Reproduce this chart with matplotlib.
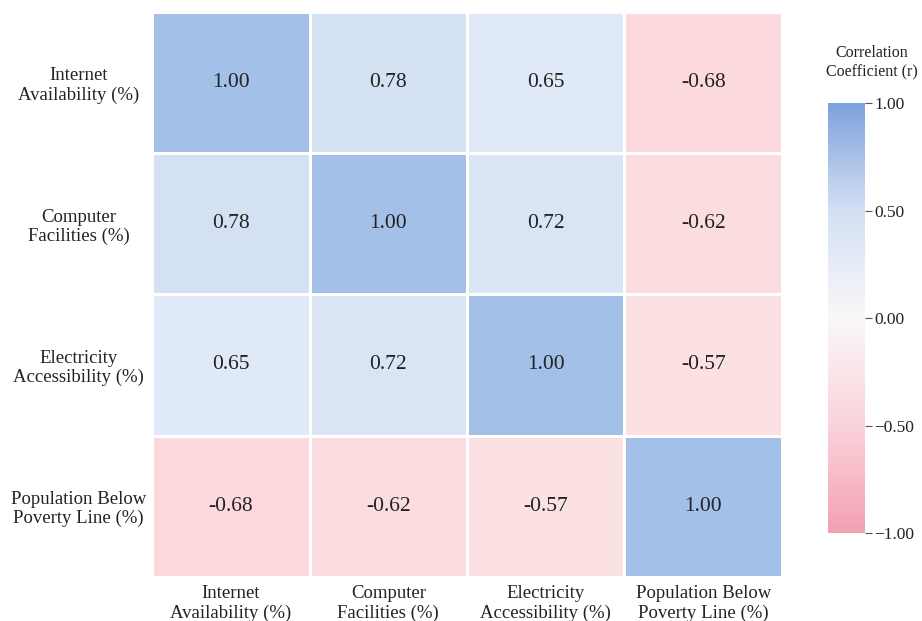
import numpy as np
import matplotlib.pyplot as plt
from matplotlib.colors import LinearSegmentedColormap, Normalize
from matplotlib.cm import ScalarMappable

plt.rcParams['font.family'] = ['Liberation Serif', 'DejaVu Serif']

# Correlation matrix between the four indicators
labels = ['Internet\nAvailability (%)', 'Computer\nFacilities (%)',
          'Electricity\nAccessibility (%)', 'Population Below\nPoverty Line (%)']
corr = np.array([
    [1.00, 0.78, 0.65, -0.68],
    [0.78, 1.00, 0.72, -0.62],
    [0.65, 0.72, 1.00, -0.57],
    [-0.68, -0.62, -0.57, 1.00],
])
cbar_ticks = [-1.0, -0.5, 0.0, 0.5, 1.0]

# soft palette for the cells, stronger one for the scale bar
cell_cmap = LinearSegmentedColormap.from_list('cells', [
    (0.00, '#f8c6cd'), (0.25, '#fce5e5'), (0.50, '#f8f8fa'),
    (0.80, '#e6edf8'), (0.90, '#d1e0f3'), (1.00, '#a3c0e8')])
bar_cmap = LinearSegmentedColormap.from_list('bar', [
    (0.00, '#f2a0b2'), (0.25, '#fad3da'), (0.50, '#f9f7f8'),
    (0.75, '#d3e0f4'), (1.00, '#7fa2dc')])
norm = Normalize(vmin=-1, vmax=1)

fig = plt.figure(figsize=(9.22, 6.21), dpi=100)
ax = fig.add_axes([0.165, 0.071, 0.683, 0.910])

n = len(labels)
ax.pcolormesh(np.arange(n + 1), np.arange(n + 1), corr, cmap=cell_cmap, norm=norm,
              edgecolors='white', linewidth=2)
ax.set_xlim(0, n)
ax.set_ylim(n, 0)

for i in range(n):
    for j in range(n):
        ax.text(j + 0.5, i + 0.5, f'{corr[i, j]:.2f}', ha='center', va='center',
                fontsize=15.5, color='#222222')

ax.set_xticks(np.arange(n) + 0.5)
ax.set_yticks(np.arange(n) + 0.5)
ax.set_xticklabels(labels, fontsize=13.5, color='#222222', ha='center',
                   multialignment='center', linespacing=1.15)
ax.set_yticklabels(labels, fontsize=13.5, color='#222222', ha='center',
                   multialignment='center', linespacing=1.15)
ax.tick_params(length=0)
ax.tick_params(axis='x', pad=6)
ax.tick_params(axis='y', pad=53)
for s in ax.spines.values():
    s.set_visible(False)

# colour scale
cax = fig.add_axes([0.898, 0.1417, 0.040, 0.692])
sm = ScalarMappable(norm=norm, cmap=bar_cmap)
cb = fig.colorbar(sm, cax=cax, ticks=cbar_ticks)
cb.outline.set_visible(False)
cb.ax.tick_params(labelsize=12.5, length=5, width=0.8, color='#555555', labelcolor='#222222', pad=2)
cb.ax.set_yticklabels([f'{t:.2f}'.replace('-', '\u2212') for t in cbar_ticks])
fig.text(0.946, 0.899, 'Correlation\nCoefficient (r)', ha='center', va='center',
         fontsize=11.5, color='#222222', linespacing=1.25)

fig.savefig('out.png', dpi=100)
